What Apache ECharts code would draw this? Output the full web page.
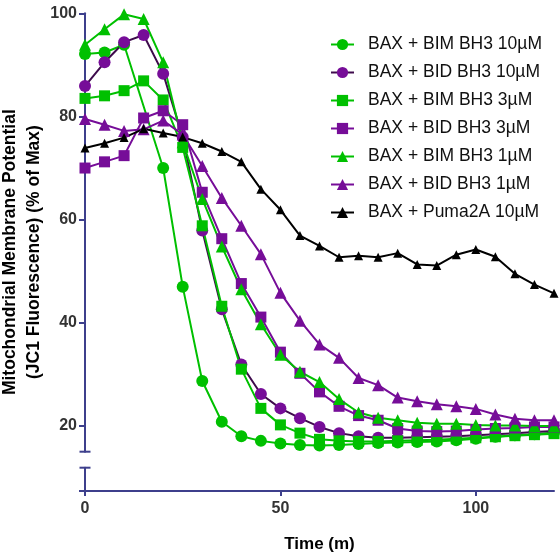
<!DOCTYPE html>
<html>
<head>
<meta charset="utf-8">
<script src="https://cdn.jsdelivr.net/npm/echarts@6/dist/echarts.min.js"></script>
<style>
  html, body { margin: 0; padding: 0; background: #fff; }
  #chart { width: 560px; height: 558px; }
</style>
</head>
<body>
<div id="chart"></div>
<script>
// time points (minutes)
const times = [0, 5, 10, 15, 20, 25, 30, 35, 40, 45, 50, 55, 60, 65, 70, 75, 80, 85, 90, 95, 100, 105, 110, 115, 120];

// % of max (null = no point drawn)
const bim10 = [92.1, 92.4, 93.9, null, 70.0, 47.0, 28.7, 20.8, 18.0, 17.1, 16.6, 16.3, 16.2, 16.3, 16.5, 16.7, 16.8, 16.9, 17.0, 17.2, 17.5, 17.9, 18.2, 18.4, 18.7];
const bid10 = [85.9, 90.5, 94.4, 95.8, 88.3, 76.0, 57.9, 42.6, 31.9, 26.2, 23.4, 21.5, 19.8, 18.6, 18.0, 17.7, 17.7, 17.8, 17.9, 18.0, 18.2, 18.4, 18.6, 18.8, 19.0];
const bim3 = [83.5, 84.0, 85.0, 86.9, 83.2, 74.0, 58.8, 43.2, 31.0, 23.4, 20.2, 18.6, 17.4, 17.1, 17.0, 17.0, 17.1, 17.2, 17.3, 17.5, 17.7, 17.9, 18.1, 18.3, 18.5];
const bid3 = [70.0, 71.2, 72.4, 79.7, 81.1, 78.4, 65.3, 56.3, 47.6, 41.1, 34.3, 30.2, 26.6, 23.8, 22.0, 21.1, 19.5, 19.0, 18.9, 19.0, 19.3, 19.5, 19.6, 19.8, 19.8];
const bim1 = [93.9, 96.9, 99.8, 98.9, 90.5, 75.0, 64.0, 54.8, 46.5, 39.7, 33.8, 30.5, 28.5, 25.2, 22.6, 21.6, 21.1, 20.6, 20.4, 20.4, 20.2, 20.1, 20.1, 20.0, 20.0];
const bid1 = [79.5, 78.4, 77.2, 77.5, 79.2, 76.5, 70.4, 64.2, 58.8, 53.3, 45.8, 40.4, 35.8, 33.2, 29.3, 27.9, 25.5, 24.8, 24.2, 23.8, 23.3, 22.2, 21.4, 21.1, 21.1];
const puma = [73.9, 74.8, 75.9, 77.6, 76.8, 76.0, 74.8, 73.2, 71.2, 65.9, 61.9, 56.9, 54.9, 52.7, 53.0, 52.7, 53.5, 51.3, 51.1, 53.2, 54.2, 52.8, 49.5, 47.4, 45.7];

const xTicks = [0, 50, 100];
const yTicks = [20, 40, 60, 80, 100];

const GREEN = '#00c000';
const PURPLE = '#760d98';
const DARK = '#3e0b4c';
const AXIS = '#3d3f8c';
const FONT = 'Arial, "Liberation Sans", sans-serif';

// layout (px)
const L = 85, R = 6;
const upTop = 13.3, upBottom = 451.7;
const lowTop = 467.7, lowBottom = 491;

const chart = echarts.init(document.getElementById('chart'));

const pair = arr => times.map((t, i) => [t, arr[i]]);

function line(name, data, symbol, color, lineColor, size) {
  return {
    name, type: 'line', data: pair(data),
    xAxisIndex: 0, yAxisIndex: 0,
    symbol, symbolSize: size, showSymbol: true, connectNulls: true,
    itemStyle: { color },
    lineStyle: { color: lineColor || color, width: 2 },
    emphasis: { disabled: true },
    animation: false
  };
}

const tickLabel = { color: '#333', fontSize: 16, fontWeight: 'bold', fontFamily: FONT };

chart.setOption({
  backgroundColor: '#fff',
  grid: [
    { left: L, right: R, top: upTop, height: upBottom - upTop },
    { left: L, right: R, top: lowTop, height: lowBottom - lowTop }
  ],
  xAxis: [
    { gridIndex: 0, type: 'value', min: 0, max: 120, show: false },
    {
      gridIndex: 1, type: 'value', min: 0, max: 120,
      axisLine: { lineStyle: { color: AXIS, width: 2 } },
      axisTick: { length: 5, lineStyle: { color: AXIS, width: 2 }, customValues: xTicks },
      axisLabel: Object.assign({ margin: 10, customValues: xTicks }, tickLabel),
      splitLine: { show: false },
      name: 'Time (m)', nameLocation: 'middle', nameGap: 45,
      nameTextStyle: { color: '#000', fontSize: 17, fontWeight: 'bold', fontFamily: FONT }
    }
  ],
  yAxis: [
    {
      gridIndex: 0, type: 'value', min: 15, max: 100,
      axisLine: { show: true, lineStyle: { color: AXIS, width: 2 } },
      axisTick: { show: true, length: 6, lineStyle: { color: AXIS, width: 2 }, customValues: yTicks },
      axisLabel: Object.assign({ margin: 8, customValues: yTicks }, tickLabel),
      splitLine: { show: false }
    },
    {
      gridIndex: 1, type: 'value', min: 0, max: 4.5,
      axisLine: { show: true, lineStyle: { color: AXIS, width: 2 } },
      axisTick: { show: true, length: 6, lineStyle: { color: AXIS, width: 2 }, customValues: [0] },
      axisLabel: { show: false },
      splitLine: { show: false }
    }
  ],
  legend: {
    orient: 'vertical', left: 330, top: 35.5, padding: 0,
    itemWidth: 23, itemHeight: 14, itemGap: 10,
    textStyle: { color: '#111', fontSize: 17.5, fontFamily: FONT, lineHeight: 14, padding: [0, 0, 0, 9] },
    selectedMode: false
  },
  graphic: [
    { type: 'line', shape: { x1: L - 5.5, y1: upBottom, x2: L + 5.5, y2: upBottom }, style: { stroke: AXIS, lineWidth: 2 } },
    { type: 'line', shape: { x1: L - 5.5, y1: lowTop, x2: L + 5.5, y2: lowTop }, style: { stroke: AXIS, lineWidth: 2 } },
    {
      type: 'text', x: 22, y: (upTop + lowBottom) / 2, rotation: Math.PI / 2,
      style: {
        text: 'Mitochondrial Membrane Potential\n(JC1 Fluorescence) (% of Max)',
        fill: '#000', font: 'bold 17.5px ' + FONT, lineHeight: 24,
        align: 'center', verticalAlign: 'middle'
      }
    }
  ],
  series: [
    line('BAX + BIM BH3 10µM', bim10, 'circle', GREEN, null, 12),
    line('BAX + BID BH3 10µM', bid10, 'circle', PURPLE, DARK, 12),
    line('BAX + BIM BH3 3µM', bim3, 'rect', GREEN, null, 11),
    line('BAX + BID BH3 3µM', bid3, 'rect', PURPLE, null, 11),
    line('BAX + BIM BH3 1µM', bim1, 'triangle', GREEN, null, 12),
    line('BAX + BID BH3 1µM', bid1, 'triangle', PURPLE, null, 12),
    line('BAX + Puma2A 10µM', puma, 'triangle', '#000', null, 9)
  ]
});
</script>
</body>
</html>
